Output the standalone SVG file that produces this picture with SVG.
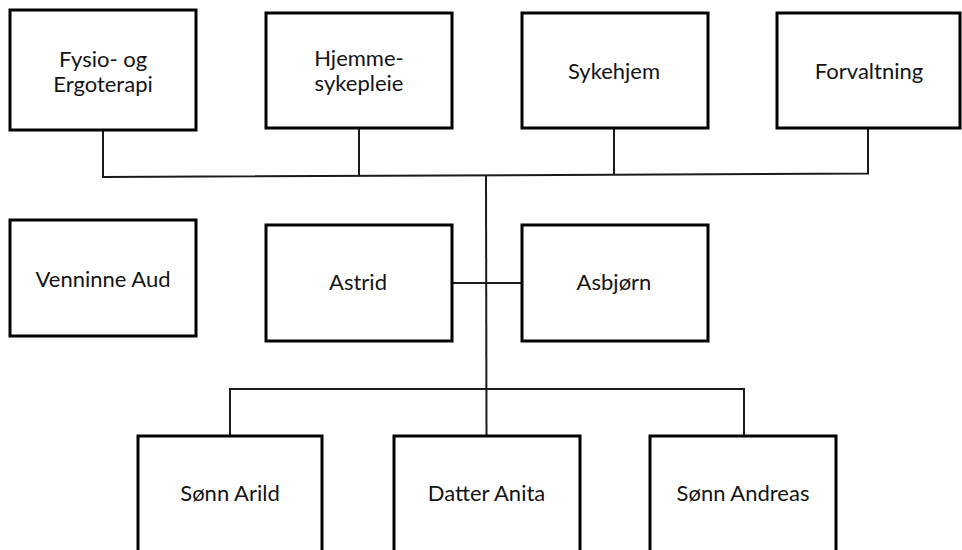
<svg xmlns="http://www.w3.org/2000/svg" width="962" height="550" viewBox="0 0 962 550">
  <style>
    .box { fill: #ffffff; stroke: #000000; stroke-width: 3; }
    .wire { fill: none; stroke: #1a1a1a; stroke-width: 2; }
    .label { font-family: Lato, "Open Sans", "Liberation Sans", sans-serif; font-size: 22px; fill: #141414; text-anchor: middle; }
  </style>
  <rect width="962" height="550" fill="#ffffff"/>

  <!-- connectors -->
  <g id="connectors">
    <!-- services bar -->
    <polyline class="wire" points="103,131 103,177 868,173.5 868,126"/>
    <line class="wire" x1="359" y1="128" x2="359" y2="175.5"/>
    <line class="wire" x1="614" y1="128" x2="614" y2="174.5"/>
    <!-- trunk down to the children -->
    <line class="wire" x1="486" y1="175" x2="486.5" y2="435"/>
    <!-- couple -->
    <line class="wire" x1="452" y1="283" x2="522" y2="283"/>
    <!-- children bar -->
    <polyline class="wire" points="230,435 230,389 744,389 744,435"/>
  </g>

  <g id="fysio">
    <rect class="box" x="10" y="10" width="186" height="120"/>
    <text class="label" x="103" y="67">Fysio- og</text>
    <text class="label" x="103" y="92">Ergoterapi</text>
  </g>
  <g id="hjemmesykepleie">
    <rect class="box" x="266" y="13" width="186" height="115"/>
    <text class="label" x="359" y="66">Hjemme-</text>
    <text class="label" x="359" y="91">sykepleie</text>
  </g>
  <g id="sykehjem">
    <rect class="box" x="522" y="13" width="186" height="115"/>
    <text class="label" x="614" y="79">Sykehjem</text>
  </g>
  <g id="forvaltning">
    <rect class="box" x="777" y="13" width="183" height="115"/>
    <text class="label" x="869" y="79">Forvaltning</text>
  </g>

  <g id="venninne-aud">
    <rect class="box" x="10" y="220" width="186" height="116"/>
    <text class="label" x="103" y="287">Venninne Aud</text>
  </g>
  <g id="astrid">
    <rect class="box" x="266" y="225" width="186" height="116"/>
    <text class="label" x="358" y="290">Astrid</text>
  </g>
  <g id="asbjorn">
    <rect class="box" x="522" y="225" width="186" height="116"/>
    <text class="label" x="614" y="290">Asbjørn</text>
  </g>

  <g id="sonn-arild">
    <rect class="box" x="138" y="436" width="184" height="130"/>
    <text class="label" x="230" y="501">Sønn Arild</text>
  </g>
  <g id="datter-anita">
    <rect class="box" x="394" y="436" width="186" height="130"/>
    <text class="label" x="486.5" y="501">Datter Anita</text>
  </g>
  <g id="sonn-andreas">
    <rect class="box" x="650" y="436" width="186" height="130"/>
    <text class="label" x="743" y="501">Sønn Andreas</text>
  </g>
</svg>
